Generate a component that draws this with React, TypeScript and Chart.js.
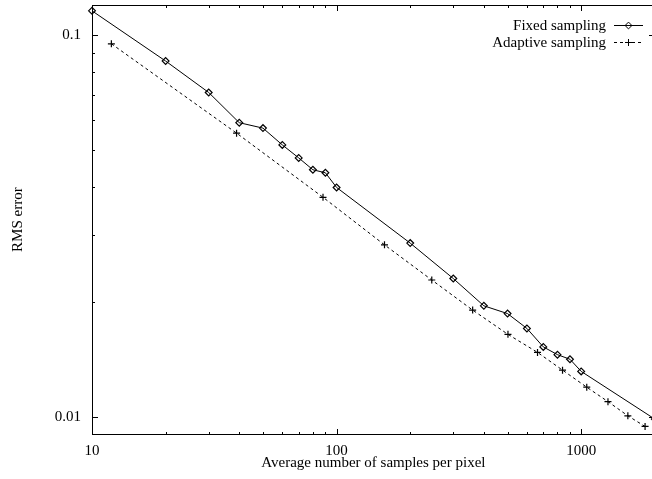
import React, { useEffect, useRef } from 'react';
import { Chart, registerables } from 'chart.js';

Chart.register(...registerables);

// ---- data ----
const fixedX = [10, 20, 30, 40, 50, 60, 70, 80, 90, 100, 200, 300, 400, 500, 600, 700, 800, 900, 1000, 2000];
const fixedY = [0.116, 0.0857, 0.0709, 0.0591, 0.0572, 0.0517, 0.0478, 0.0445, 0.0437, 0.04, 0.0286, 0.0231, 0.0196, 0.0187, 0.0171, 0.0153, 0.0146, 0.0142, 0.0132, 0.0099];
const adaptiveX = [12, 39, 88, 157, 245, 360, 502, 663, 839, 1054, 1287, 1552, 1825];
const adaptiveY = [0.0951, 0.0555, 0.0377, 0.0283, 0.0229, 0.0191, 0.0165, 0.0148, 0.0133, 0.012, 0.011, 0.0101, 0.00947];

const seriesLabels = ['Fixed sampling', 'Adaptive sampling'];
const xTitle = 'Average number of samples per pixel';
const yTitle = 'RMS error';

const xRange = [10, 2000];
const yRange = [0.00905, 0.12];
const xMajorTicks = [10, 100, 1000];
const xMinorTicks = [20, 30, 40, 50, 60, 70, 80, 90, 200, 300, 400, 500, 600, 700, 800, 900];
const yMajorTicks = [0.01, 0.1];
const yMinorTicks = [0.02, 0.03, 0.04, 0.05, 0.06, 0.07, 0.08, 0.09];

const FONT_FAMILY = '"Liberation Serif", "Times New Roman", serif';
const font = { family: FONT_FAMILY, size: 15, lineHeight: 1.2 };

// frame + inward tick marks on all four sides (gnuplot style)
function drawFrameAndTicks(chart: any) {
  const ctx = chart.ctx;
  const xs = chart.scales.x;
  const ys = chart.scales.y;
  const L = Math.round(xs.getPixelForValue(xRange[0]));
  const R = Math.round(xs.getPixelForValue(xRange[1])) - 1;
  const T = Math.round(ys.getPixelForValue(yRange[1]));
  const B = Math.round(ys.getPixelForValue(yRange[0]));
  ctx.save();
  ctx.setTransform(1, 0, 0, 1, 0, 0);
  ctx.globalAlpha = 1;
  ctx.globalCompositeOperation = 'source-over';
  ctx.fillStyle = '#000000';
  ctx.fillRect(L, T, R - L + 1, 1);
  ctx.fillRect(L, B, R - L + 1, 1);
  ctx.fillRect(L, T, 1, B - T + 1);
  ctx.fillRect(R, T, 1, B - T + 1);
  const xt = (v: number, len: number) => {
    const p = Math.round(xs.getPixelForValue(v));
    ctx.fillRect(p, B - len + 1, 1, len);
    ctx.fillRect(p, T, 1, len);
  };
  const yt = (v: number, len: number) => {
    const p = Math.round(ys.getPixelForValue(v));
    ctx.fillRect(L, p, len, 1);
    ctx.fillRect(R - len + 1, p, len, 1);
  };
  xMajorTicks.forEach(v => xt(v, 6));
  xMinorTicks.forEach(v => xt(v, 3));
  yMajorTicks.forEach(v => yt(v, 6));
  yMinorTicks.forEach(v => yt(v, 3));
  ctx.restore();
}

function drawLegend(chart: any) {
  const ctx = chart.ctx;
  const textRight = 606;
  const x0 = 614;
  const x1 = 643;
  const xm = 628.5;
  const rows = [25.5, 42.5];
  ctx.save();
  ctx.font = `15px ${FONT_FAMILY}`;
  ctx.fillStyle = '#000';
  ctx.textAlign = 'right';
  ctx.textBaseline = 'middle';
  ctx.strokeStyle = '#000';
  ctx.lineWidth = 1;
  chart.data.datasets.forEach((ds: any, i: number) => {
    const y = rows[i];
    ctx.fillText(ds.label, textRight, y + 1);
    ctx.setLineDash(ds.borderDash || []);
    ctx.beginPath();
    ctx.moveTo(x0, y);
    ctx.lineTo(x1, y);
    ctx.stroke();
    ctx.setLineDash([]);
    ctx.beginPath();
    const r = ds.pointRadius;
    if (ds.pointStyle === 'rectRot') {
      ctx.moveTo(xm - r, y); ctx.lineTo(xm, y - r); ctx.lineTo(xm + r, y); ctx.lineTo(xm, y + r); ctx.closePath();
    } else {
      ctx.moveTo(xm - r, y); ctx.lineTo(xm + r, y); ctx.moveTo(xm, y - r); ctx.lineTo(xm, y + r);
    }
    ctx.stroke();
  });
  ctx.restore();
}

const gnuPlugin = {
  id: 'gnuDecor',
  beforeDatasetsDraw(chart: any) {
    drawFrameAndTicks(chart);
  },
  afterDraw(chart: any) {
    drawFrameAndTicks(chart);
    drawLegend(chart);
  },
};

const hiddenGrid = { display: true, drawOnChartArea: false, drawTicks: false, tickLength: 0, color: 'rgba(0,0,0,0)' };
const frameBorder = { display: true, color: '#000', width: 1 };

export default function App() {
  const ref = useRef<HTMLCanvasElement>(null);
  useEffect(() => {
    const canvas = ref.current!;
    const chart = new Chart(canvas, {
      type: 'line',
      data: {
        datasets: [
          {
            label: seriesLabels[0],
            data: fixedX.map((x, i) => ({ x, y: fixedY[i] })),
            borderColor: '#000',
            borderWidth: 1,
            pointStyle: 'rectRot',
            pointRadius: 3.4,
            pointBorderColor: '#000',
            pointBackgroundColor: 'rgba(0,0,0,0)',
            pointBorderWidth: 1.2,
            tension: 0,
            clip: false,
          } as any,
          {
            label: seriesLabels[1],
            data: adaptiveX.map((x, i) => ({ x, y: adaptiveY[i] })),
            borderColor: '#000',
            borderWidth: 1,
            borderDash: [3, 3],
            pointStyle: 'cross',
            pointRadius: 3.5,
            pointBorderColor: '#000',
            pointBackgroundColor: 'rgba(0,0,0,0)',
            pointBorderWidth: 1.2,
            tension: 0,
            clip: false,
          } as any,
        ],
      },
      options: {
        animation: false,
        responsive: false,
        devicePixelRatio: 1,
        layout: { padding: { top: 4, right: 3, left: 0, bottom: 0 } },
        plugins: { legend: { display: false }, tooltip: { enabled: false } },
        scales: {
          x: {
            type: 'logarithmic',
            position: 'bottom',
            min: xRange[0],
            max: xRange[1],
            grid: hiddenGrid,
            border: frameBorder,
            afterBuildTicks: (s: any) => { s.ticks = xMajorTicks.map(v => ({ value: v })); },
            afterFit: (s: any) => { s.height = 45; s.paddingLeft = 0; s.paddingRight = 0; },
            ticks: { font, color: '#000', padding: 8, maxRotation: 0, autoSkip: false, callback: (v: any) => String(v) },
            title: { display: true, text: xTitle, font, color: '#000', padding: { top: 0, bottom: 7 } },
          },
          x2: {
            type: 'logarithmic',
            position: 'top',
            min: xRange[0],
            max: xRange[1],
            grid: hiddenGrid,
            border: frameBorder,
            ticks: { display: false },
            afterBuildTicks: (s: any) => { s.ticks = xMajorTicks.map(v => ({ value: v })); },
            afterFit: (s: any) => { s.height = 0; s.paddingLeft = 0; s.paddingRight = 0; },
          },
          y: {
            type: 'logarithmic',
            position: 'left',
            min: yRange[0],
            max: yRange[1],
            grid: hiddenGrid,
            border: frameBorder,
            afterBuildTicks: (s: any) => { s.ticks = yMajorTicks.map(v => ({ value: v })); },
            afterFit: (s: any) => { s.width = 92; s.paddingTop = 0; s.paddingBottom = 0; },
            ticks: { font, color: '#000', padding: 11, autoSkip: false, callback: (v: any) => String(v) },
            title: { display: true, text: yTitle, font, color: '#000', padding: { top: 9, bottom: 0 } },
          },
          y2: {
            type: 'logarithmic',
            position: 'right',
            min: yRange[0],
            max: yRange[1],
            grid: hiddenGrid,
            border: frameBorder,
            ticks: { display: false },
            afterBuildTicks: (s: any) => { s.ticks = yMajorTicks.map(v => ({ value: v })); },
            afterFit: (s: any) => { s.width = 0; s.paddingTop = 0; s.paddingBottom = 0; },
          },
        },
      } as any,
      plugins: [gnuPlugin],
    });
    return () => chart.destroy();
  }, []);
  return (
    <div style={{ position: 'fixed', left: 0, top: 0, width: 652, height: 479, overflow: 'hidden', background: '#fff' }}>
      <canvas ref={ref} width={660} height={479} style={{ display: 'block', width: 660, height: 479 }} />
    </div>
  );
}
